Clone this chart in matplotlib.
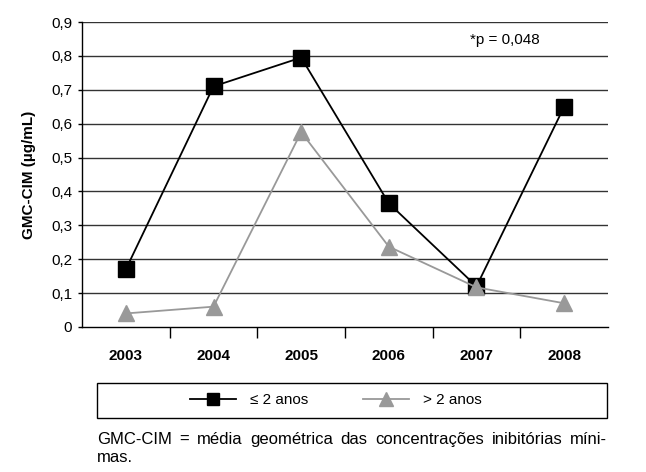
import matplotlib
matplotlib.use("Agg")
import matplotlib.pyplot as plt
from matplotlib.lines import Line2D
from matplotlib.patches import Rectangle

years = ["2003", "2004", "2005", "2006", "2007", "2008"]
le2 = [0.17, 0.71, 0.795, 0.365, 0.12, 0.65]
gt2 = [0.04, 0.06, 0.575, 0.237, 0.117, 0.07]
yticks = [0, 0.1, 0.2, 0.3, 0.4, 0.5, 0.6, 0.7, 0.8, 0.9]
ytick_labels = ["0", "0,1", "0,2", "0,3", "0,4", "0,5", "0,6", "0,7", "0,8", "0,9"]
series_labels = ["≤ 2 anos", "> 2 anos"]
footnote_line1 = "GMC-CIM = média geométrica das concentrações inibitórias míni-"
footnote_line2 = "mas."

plt.rcParams['font.family'] = ['Liberation Sans', 'DejaVu Sans']

W, H = 646, 472
fig = plt.figure(figsize=(W/100, H/100), dpi=100)
ax = fig.add_axes([82/W, 1-327/H, (608-82)/W, (327-22)/H])

x = list(range(len(years)))
for yv in yticks[1:]:
    ax.axhline(yv, color="#333333", lw=1.0, zorder=1)

ax.plot(x, le2, color="black", lw=1.3, marker="s", markersize=11, zorder=3)
ax.plot(x, gt2, color="#999999", lw=1.3, marker="^", markersize=11.5, zorder=4)

ax.set_xlim(-0.5, 5.5)
ax.set_ylim(0, 0.9)
ax.set_yticks(yticks)
ax.set_yticklabels(ytick_labels, fontsize=11)
ax.set_xticks(x)
ax.set_xticklabels(years, fontsize=11, fontweight="bold")
ax.tick_params(axis="x", length=0, pad=16)
ax.set_xticks([0.5, 1.5, 2.5, 3.5, 4.5], minor=True)
ax.tick_params(axis="x", which="minor", length=8, width=1, direction="out", color="black")
ax.tick_params(axis="y", length=3, width=1, pad=4)
for s in ["top", "right"]:
    ax.spines[s].set_visible(False)
ax.spines["left"].set_linewidth(1.0)
ax.spines["bottom"].set_linewidth(1.0)
ax.set_ylabel("GMC-CIM (µg/mL)", fontsize=11, fontweight="bold", labelpad=11)

ax.text(0.87, 0.94, "*p = 0,048", transform=ax.transAxes, fontsize=11, ha="right", va="center")

# legend box
fig.patches.append(Rectangle((97/W, 1-418/H), (607-97)/W, 35/H,
                             transform=fig.transFigure, fill=False, edgecolor="black", lw=1.0))
h1 = Line2D([], [], color="black", lw=1.3, marker="s", markersize=9)
h2 = Line2D([], [], color="#999999", lw=1.3, marker="^", markersize=10)
fig.legend([h1, h2], series_labels, loc="center", ncol=2,
           bbox_to_anchor=(336/W, 1-400/H), frameon=False, fontsize=11,
           handlelength=3.0, columnspacing=3.6, handletextpad=0.9)

# justified footnote line 1
fig.canvas.draw()
renderer = fig.canvas.get_renderer()
words = footnote_line1.split(" ")
x0, x1 = 97, 607
ypix = 444
texts = [fig.text(0, 1-ypix/H, w, fontsize=12, ha="left", va="baseline") for w in words]
widths = [t.get_window_extent(renderer).width for t in texts]
gap = (x1 - x0 - sum(widths)) / (len(words) - 1)
cur = x0
for t, w in zip(texts, widths):
    t.set_x(cur/W)
    cur += w + gap
fig.text(x0/W, 1-462/H, footnote_line2, fontsize=12, ha="left", va="baseline")

fig.savefig("out.png", dpi=100)
